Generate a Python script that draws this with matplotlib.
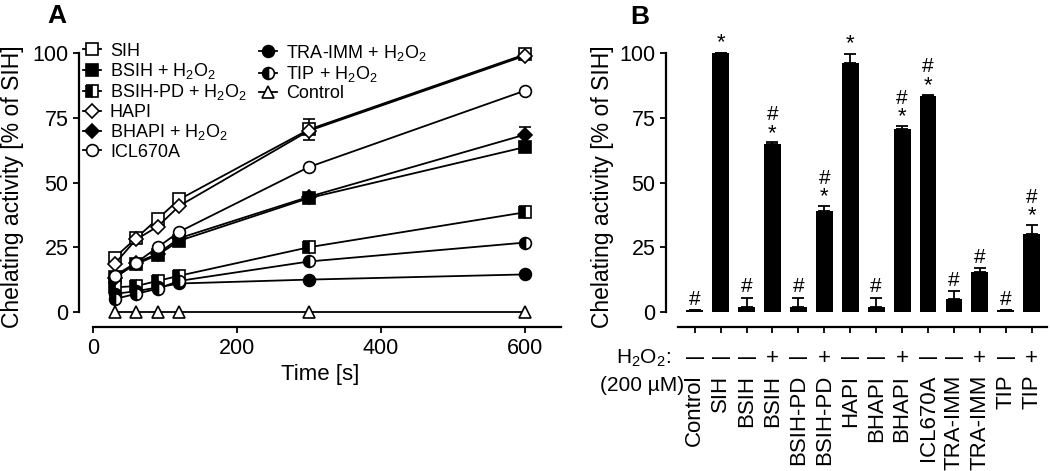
import matplotlib
matplotlib.use("Agg")
import matplotlib.pyplot as plt
import numpy as np

plt.rcParams['font.family'] = ['Liberation Sans', 'DejaVu Sans']
plt.rcParams['mathtext.default'] = 'regular'

# Panel A data
time = [30, 60, 90, 120, 300, 600]
sih = [21, 28.5, 36, 43.5, 70.5, 99.5]
sih_err = [1, 1, 1, 1, 4, 1.5]
bsih_h = [13.5, 18.5, 22, 27.5, 44, 63.7]
bsihpd_h = [9.5, 10, 12, 14, 25, 38.5]
hapi = [18.5, 28, 33, 41, 70, 99]
bhapi_h = [13, 19, 22.5, 28.5, 44.5, 68.5]
bhapi_err = [0.5, 0.5, 0.5, 0.5, 0.5, 3]
icl = [14, 19, 25, 31, 56, 85.5]
tra_h = [7, 8, 9.5, 11, 12.5, 14.5]
tip_h = [5, 7, 9, 12, 19.5, 26.8]
control = [0, 0, 0, 0, 0, 0]

# Panel B data
groups = ['Control', 'SIH', 'BSIH', 'BSIH', 'BSIH-PD', 'BSIH-PD', 'HAPI', 'BHAPI',
          'BHAPI', 'ICL670A', 'TRA-IMM', 'TRA-IMM', 'TIP', 'TIP']
h2o2 = ['—', '—', '—', '+', '—', '+', '—', '—', '+', '—', '—', '+', '—', '+']
activity = [0.6, 100, 2, 65, 2, 39, 96, 2, 70.5, 83.5, 5, 15.5, 0.6, 30]
act_err = [0, 0, 3.5, 0.5, 3.5, 2, 3.5, 3.5, 1.5, 0.5, 3, 1.5, 0, 3.5]
marks = ['#', '*', '#', '#*', '#', '#*', '*', '#', '#*', '#*', '#', '#', '#', '#*']

fig = plt.figure(figsize=(10.5, 4.71), dpi=100)
axA = fig.add_axes([0.0752, 0.3047, 0.459, 0.599])
axB = fig.add_axes([0.634, 0.3047, 0.3634, 0.599])

lw = 1.3
ms = 8.5
kw = dict(color='k', lw=lw, ms=ms, mew=1.2, capsize=4, elinewidth=1.2)
h1 = axA.errorbar(time, sih, sih_err, marker='s', mfc='white', **kw)
h2 = axA.errorbar(time, bsih_h, marker='s', mfc='k', **kw)
h3 = axA.errorbar(time, bsihpd_h, marker='s', mfc='k', fillstyle='left', mfcalt='white', **kw)
h4 = axA.errorbar(time, hapi, marker='D', mfc='white', **dict(kw, ms=7.5))
h5 = axA.errorbar(time, bhapi_h, bhapi_err, marker='D', mfc='k', **dict(kw, ms=7))
h6 = axA.errorbar(time, icl, marker='o', mfc='white', **kw)
h7 = axA.errorbar(time, tra_h, marker='o', mfc='k', **kw)
h8 = axA.errorbar(time, tip_h, marker='o', mfc='k', fillstyle='left', mfcalt='white', **kw)
h9 = axA.errorbar(time, control, marker='^', mfc='white', **kw)

axA.set_xlim(-19.4, 650)
axA.set_ylim(-6, 103)
for s in ['top', 'right']:
    axA.spines[s].set_visible(False)
axA.spines['bottom'].set_bounds(0, 650)
axA.spines['left'].set_bounds(0, 100)
for s in ['bottom', 'left']:
    axA.spines[s].set_linewidth(1.6)
axA.set_xticks([0, 200, 400, 600])
axA.set_yticks([0, 25, 50, 75, 100])
axA.tick_params(direction='out', length=4, width=1.3, labelsize=15.5)
axA.set_xlabel('Time [s]', fontsize=16, labelpad=4)
axA.set_ylabel('Chelating activity [% of SIH]', fontsize=16.5, labelpad=6)

legkw = dict(frameon=False, fontsize=13, handlelength=1.0, handletextpad=0.5,
             labelspacing=0.08, borderpad=0, borderaxespad=0, loc='upper left')
leg1 = axA.legend([h1[0], h2[0], h3[0], h4[0], h5[0], h6[0]],
                  ['SIH', 'BSIH + H$_2$O$_2$', 'BSIH-PD + H$_2$O$_2$', 'HAPI',
                   'BHAPI + H$_2$O$_2$', 'ICL670A'],
                  bbox_to_anchor=(0.008, 1.01), **legkw)
axA.add_artist(leg1)
axA.legend([h7[0], h8[0], h9[0]], ['TRA-IMM + H$_2$O$_2$', 'TIP + H$_2$O$_2$', 'Control'],
           bbox_to_anchor=(0.373, 1.01), **legkw)

# Panel B
x = np.arange(len(activity))
axB.bar(x, activity, width=0.65, color='k', yerr=[np.zeros(len(act_err)), act_err],
        capsize=4, error_kw=dict(elinewidth=1.3, capthick=1.3, ecolor='k'))
for i in x:
    top = activity[i] + act_err[i]
    m = marks[i]
    if m == '#*':
        axB.annotate('*', (i, top), xytext=(0, -1), textcoords='offset points',
                     ha='center', va='bottom', fontsize=16)
        axB.annotate('#', (i, top), xytext=(0, 13), textcoords='offset points',
                     ha='center', va='bottom', fontsize=15)
    else:
        axB.annotate(m, (i, top), xytext=(0, 0 if m == '*' else 1), textcoords='offset points',
                     ha='center', va='bottom', fontsize=16 if m == '*' else 15)

axB.set_xlim(-1.12, 13.6)
axB.set_ylim(-6, 103)
for s in ['top', 'right']:
    axB.spines[s].set_visible(False)
axB.spines['bottom'].set_bounds(-0.65, 13.6)
axB.spines['left'].set_bounds(0, 100)
for s in ['bottom', 'left']:
    axB.spines[s].set_linewidth(1.6)
axB.set_yticks([0, 25, 50, 75, 100])
axB.set_xticks(x)
axB.set_xticklabels(groups, rotation=90, fontsize=16)
axB.tick_params(axis='x', direction='out', length=4, width=1.3, pad=30)
axB.tick_params(axis='y', direction='out', length=4, width=1.3, labelsize=15.5)
axB.set_ylabel('Chelating activity [% of SIH]', fontsize=16.5, labelpad=4)

trans = axB.get_xaxis_transform()
for i in x:
    sign = h2o2[i]
    axB.annotate(sign, (i, 0), xycoords=trans, xytext=(0, -22), textcoords='offset points',
                 ha='center', va='center', fontsize=13 if sign == '—' else 16,
                 fontweight='bold' if sign == '—' else 'normal')
axB.annotate('H$_2$O$_2$:', (-1.12, 0), xycoords=trans, xytext=(4, -22),
             textcoords='offset points', ha='right', va='center', fontsize=15)
axB.annotate('(200 µM)', (-1.12, 0), xycoords=trans, xytext=(13, -42),
             textcoords='offset points', ha='right', va='center', fontsize=15)

fig.text(57 / 1050, 1 - 16 / 471, 'A', fontsize=19, fontweight='bold', ha='center', va='center')
fig.text(640 / 1050, 1 - 17 / 471, 'B', fontsize=19, fontweight='bold', ha='center', va='center')

fig.savefig('out.png', dpi=100)
